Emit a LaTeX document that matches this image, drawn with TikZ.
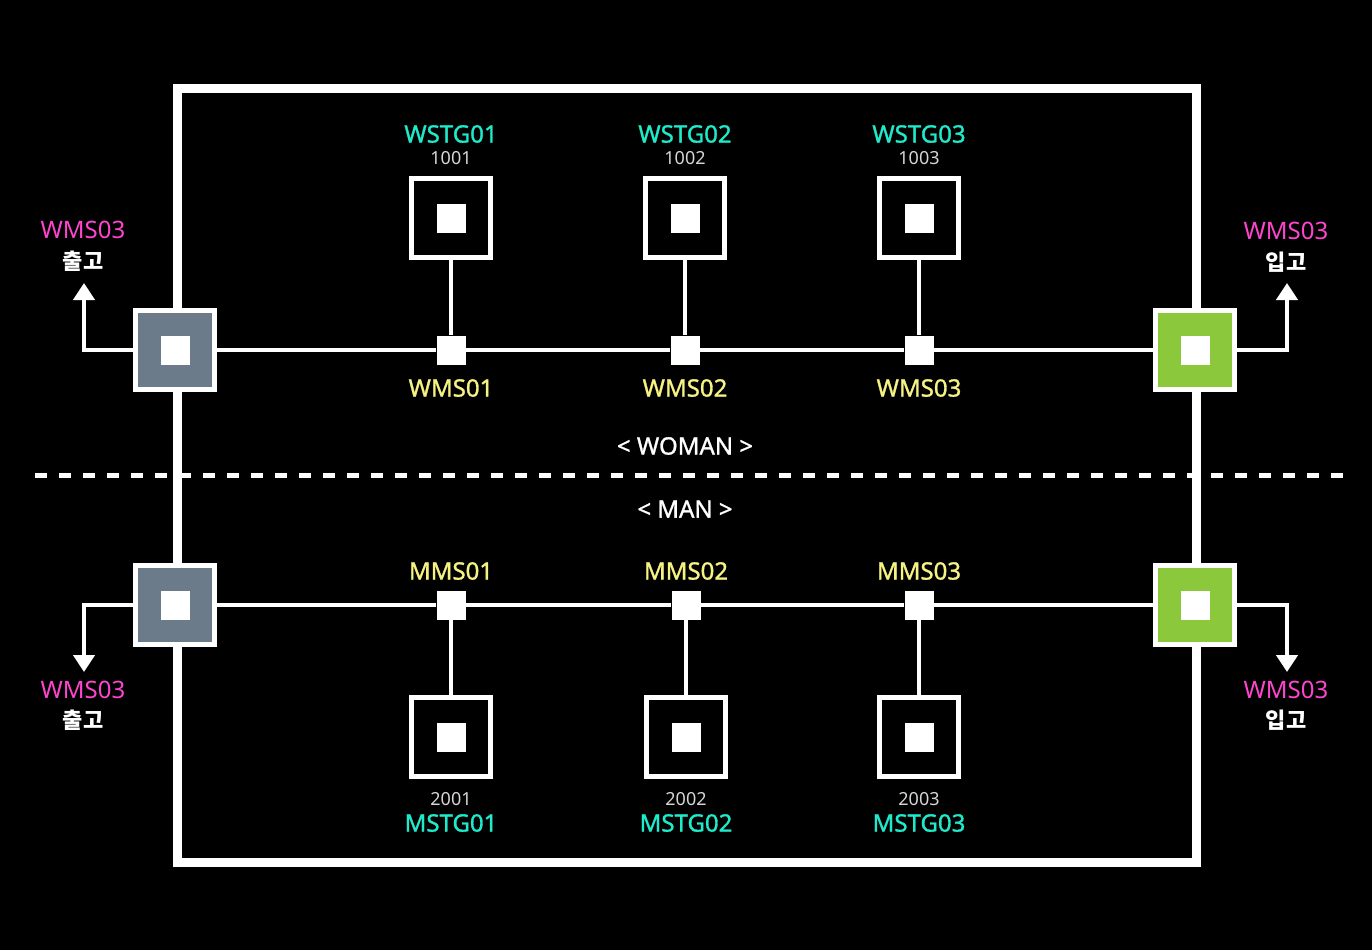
\documentclass[tikz,border=0pt]{standalone}
\usepackage{fontspec}
\setmainfont{Noto Sans}
\newfontfamily\medfont[FakeBold=1.2]{Noto Sans}
\newfontfamily\krfont{Noto Sans CJK KR}
\usetikzlibrary{positioning,arrows.meta}

\definecolor{stgcyan}{HTML}{1EEBCB}
\definecolor{msyellow}{HTML}{F7F383}
\definecolor{portpink}{HTML}{FF45D0}
\definecolor{outgray}{HTML}{6B7B8A}
\definecolor{ingreen}{HTML}{8CC83C}
\definecolor{numgray}{HTML}{D6D6D6}

\tikzset{
  wire/.style={white, line width=4.5pt},
  flow/.style={white, line width=4.5pt, -{Triangle[width=21pt,length=17pt]}},
  stgbox/.style={draw=white, line width=5pt, fill=black, minimum size=79pt, inner sep=0pt},
  portbox/.style={draw=white, line width=5pt, minimum size=79pt, inner sep=0pt},
  dot/.style={fill=white, minimum size=29pt, inner sep=0pt},
  stglabel/.style={text=stgcyan, font=\medfont\fontsize{24}{28}\selectfont},
  numlabel/.style={text=numgray, font=\fontsize{18}{22}\selectfont},
  mslabel/.style={text=msyellow, font=\medfont\fontsize{24}{28}\selectfont},
  portlabel/.style={text=portpink, font=\fontsize{24}{28}\selectfont},
  krlabel/.style={text=white, font=\krfont\bfseries\fontsize{22}{26}\selectfont},
  zonelabel/.style={text=white, font=\medfont\fontsize{24}{28}\selectfont}
}

\begin{document}
\begin{tikzpicture}[x=1pt, y=-1pt]
    % background and page size
    \fill[black] (0,0) rectangle (1372,950);
    \useasboundingbox (0,0) rectangle (1372,950);

    % split between the two zones
    \draw[white, line width=5pt, dash pattern=on 12pt off 12pt] (35,475.5) -- (1347,475.5);
    \node[zonelabel] (woman) at (685,446) {< WOMAN >};
    \node[zonelabel] (man) at (685,509) {< MAN >};

    % outer frame
    \draw[white, line width=9pt] (177,88) rectangle (1196,862);

    % in and out ports
    \node[portbox, fill=outgray] (wout) at (175,350) {};
    \node[portbox, fill=ingreen] (win) at (1195,350) {};
    \node[portbox, fill=outgray] (mout) at (175,605) {};
    \node[portbox, fill=ingreen] (min) at (1195,605) {};
    \foreach \p in {wout, win, mout, min}
      \node[dot] at (\p) {};

    % woman zone: storages and their stations
    \foreach \x/\i in {451/1, 685/2, 919/3} {
      \node[stgbox] (wstg\i) at (\x,218) {};
      \node[dot] at (wstg\i) {};
      \node[dot] (wms\i) at (\x,350) {};
      \draw[wire] (wstg\i) -- (wms\i);
      \node[stglabel] at (\x,134) {WSTG0\i};
      \node[numlabel] at (\x,158) {100\i};
      \node[mslabel] at (\x,388) {WMS0\i};
    }

    % man zone: storages and their stations
    \foreach \x/\i in {451/1, 686/2, 919/3} {
      \node[stgbox] (mstg\i) at (\x,737) {};
      \node[dot] at (mstg\i) {};
      \node[dot] (mms\i) at (\x,605) {};
      \draw[wire] (mms\i) -- (mstg\i);
      \node[mslabel] at (\x,571) {MMS0\i};
      \node[numlabel] at (\x,799) {200\i};
      \node[stglabel] at (\x,823) {MSTG0\i};
    }

    % main lines
    \draw[wire] (wout) -- (wms1) -- (wms2) -- (wms3) -- (win);
    \draw[wire] (mout) -- (mms1) -- (mms2) -- (mms3) -- (min);

    % flows out of the frame
    \coordinate (wouttip) at (84,283);
    \coordinate (wintip) at (1287,283);
    \coordinate (mouttip) at (84,672);
    \coordinate (mintip) at (1287,672);
    \draw[flow] (wout.west) -| (wouttip);
    \draw[flow] (win.east) -| (wintip);
    \draw[flow] (mout.west) -| (mouttip);
    \draw[flow] (min.east) -| (mintip);

    % port labels
    \node[portlabel] at (83,230) {WMS03};
    \node[krlabel] at (83,261) {출고};
    \node[portlabel] at (1286,231) {WMS03};
    \node[krlabel] at (1286,262) {입고};
    \node[portlabel] at (83,690) {WMS03};
    \node[krlabel] at (83,720) {출고};
    \node[portlabel] at (1286,690) {WMS03};
    \node[krlabel] at (1286,720) {입고};

\end{tikzpicture}
\end{document}
